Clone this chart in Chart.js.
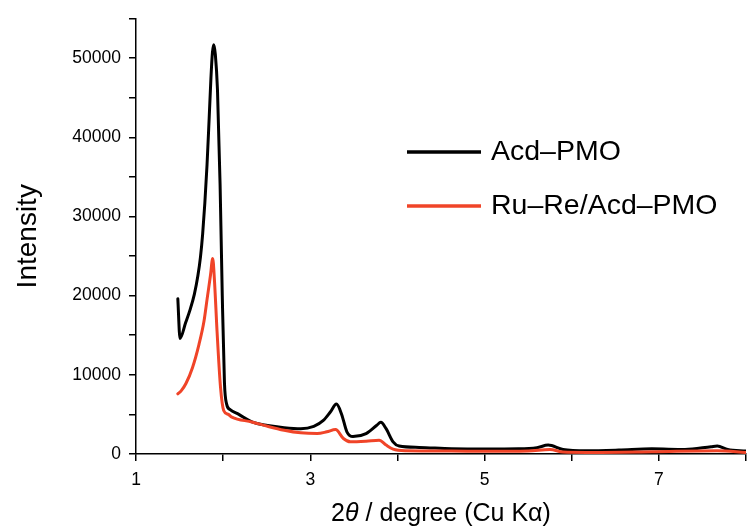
<!DOCTYPE html>
<html>
<head>
<meta charset="utf-8">
<script src="https://cdn.jsdelivr.net/npm/chart.js@4/dist/chart.umd.min.js"></script>
<style>
body{margin:0;background:#fff;}
canvas{display:block;}
</style>
</head>
<body>
<canvas id="chart" width="755" height="528"></canvas>
<script>

const FONT = '"Liberation Sans", Arial, sans-serif';

// Acd-PMO (black)
const acdX = [1.48, 1.505, 1.57, 1.62, 1.67, 1.71, 1.74, 1.765, 1.79, 1.815, 1.84, 1.86, 1.877, 1.893, 1.91, 1.935, 1.965, 1.99, 2.015, 2.04, 2.08, 2.18, 2.33, 2.51, 2.70, 2.89, 3.04, 3.15, 3.23, 3.30, 3.36, 3.42, 3.49, 3.64, 3.76, 3.81, 3.87, 3.95, 4.02, 4.25, 4.62, 5.0, 5.39, 5.6, 5.73, 5.9, 6.17, 6.54, 6.92, 7.3, 7.6, 7.67, 7.79, 8.0];
const acdY = [19600, 14600, 16600, 18200, 20200, 22500, 24900, 27800, 31700, 36500, 42500, 47500, 50700, 51700, 50500, 46000, 34000, 20000, 9000, 6300, 5600, 5000, 4050, 3600, 3330, 3200, 3500, 4250, 5300, 6300, 5000, 2800, 2200, 2580, 3600, 4000, 3200, 1540, 1000, 830, 670, 620, 650, 800, 1125, 580, 420, 500, 650, 580, 920, 1000, 580, 375];

// Ru-Re/Acd-PMO (red)
const ruX = [1.48, 1.52, 1.573, 1.648, 1.723, 1.78, 1.817, 1.855, 1.88, 1.90, 1.93, 1.97, 2.006, 2.06, 2.10, 2.33, 2.51, 2.70, 2.89, 3.08, 3.19, 3.29, 3.38, 3.46, 3.64, 3.79, 3.87, 3.95, 4.10, 4.62, 5.0, 5.5, 5.75, 5.9, 6.17, 6.92, 7.67, 8.0];
const ruY = [7600, 8000, 8900, 10900, 13850, 16750, 19650, 22600, 24700, 22000, 15500, 8400, 5500, 5000, 4650, 4050, 3500, 3000, 2670, 2580, 2800, 3080, 1960, 1540, 1620, 1750, 1125, 620, 420, 380, 340, 380, 580, 250, 200, 290, 420, 200];

const seriesNames = ["Acd\u2013PMO", "Ru\u2013Re/Acd\u2013PMO"];
const seriesColors = ["#000000", "#F04428"];

const xTickLabels = [1, 3, 5, 7];
const yTickLabels = [0, 10000, 20000, 30000, 40000, 50000];

function points(xs, ys){
    return xs.map((x, i) => ({x: x, y: ys[i]}));
}

// legend drawn at the right of the peak, like the original
const legendPlugin = {
    id: "sideLegend",
    afterDraw(chart){
        const ctx = chart.ctx;
        const rows = [152, 206];
        ctx.save();
        chart.data.datasets.forEach((ds, i) => {
            ctx.strokeStyle = ds.borderColor;
            ctx.lineWidth = 3.5;
            ctx.beginPath();
            ctx.moveTo(407, rows[i]);
            ctx.lineTo(481, rows[i]);
            ctx.stroke();
            ctx.fillStyle = "#000";
            ctx.font = "28.5px " + FONT;
            ctx.textBaseline = "middle";
            ctx.textAlign = "left";
            ctx.fillText(ds.label, 491, rows[i]);
        });
        ctx.restore();
    }
};

// x title with italic theta
const xTitlePlugin = {
    id: "xTitle",
    afterDraw(chart){
        const ctx = chart.ctx;
        const area = chart.chartArea;
        const parts = [
            ["2", "25px " + FONT],
            ["\u03B8", "italic 25px " + FONT],
            [" / degree (Cu K\u03B1)", "25px " + FONT]
        ];
        ctx.save();
        let total = 0;
        parts.forEach(p => { ctx.font = p[1]; total += ctx.measureText(p[0]).width; });
        let x = (area.left + area.right) / 2 - total / 2;
        ctx.fillStyle = "#000";
        ctx.textBaseline = "alphabetic";
        ctx.textAlign = "left";
        parts.forEach(p => {
            ctx.font = p[1];
            ctx.fillText(p[0], x, 521);
            x += ctx.measureText(p[0]).width;
        });
        ctx.restore();
    }
};

function drawChart(){

    const ctx = document.getElementById("chart");

    new Chart(ctx, {
        type: "line",
        data: {
            datasets: [
                {
                    label: seriesNames[0],
                    data: points(acdX, acdY),
                    borderColor: seriesColors[0],
                    borderWidth: 3,
                    order: 1
                },
                {
                    label: seriesNames[1],
                    data: points(ruX, ruY),
                    borderColor: seriesColors[1],
                    borderWidth: 3,
                    order: 0
                }
            ]
        },
        options: {
            responsive: false,
            animation: false,
            devicePixelRatio: 1,
            layout: {padding: {top: 14, left: 0, right: 0, bottom: 0}},
            elements: {
                point: {radius: 0},
                line: {cubicInterpolationMode: "monotone", fill: false, borderJoinStyle: "round", borderCapStyle: "round"}
            },
            plugins: {
                legend: {display: false},
                tooltip: {enabled: false}
            },
            scales: {
                x: {
                    type: "linear",
                    min: 1,
                    max: 8,
                    afterFit: s => { s.height = 74; },
                    border: {display: true, color: "#000", width: 1.5},
                    grid: {display: true, drawOnChartArea: false, drawTicks: true, tickLength: 7, color: "#000", lineWidth: 1.5},
                    ticks: {
                        stepSize: 1,
                        autoSkip: false,
                        maxRotation: 0,
                        padding: 9,
                        color: "#000",
                        font: {family: FONT, size: 17.5},
                        callback: v => xTickLabels.includes(v) ? String(v) : ""
                    }
                },
                y: {
                    min: 0,
                    max: 55000,
                    afterFit: s => { s.width = 136; },
                    border: {display: true, color: "#000", width: 1.5},
                    grid: {display: true, drawOnChartArea: false, drawTicks: true, tickLength: 7, color: "#000", lineWidth: 1.5},
                    ticks: {
                        stepSize: 5000,
                        autoSkip: false,
                        padding: 8,
                        color: "#000",
                        font: {family: FONT, size: 17.5},
                        callback: v => yTickLabels.includes(v) ? String(v) : ""
                    },
                    title: {
                        display: true,
                        text: "Intensity",
                        color: "#000",
                        font: {family: FONT, size: 28, lineHeight: 1},
                        padding: {top: 14, bottom: 0}
                    }
                }
            }
        },
        plugins: [legendPlugin, xTitlePlugin]
    });

}

document.addEventListener("DOMContentLoaded", () => {
    drawChart();
});

</script>
</body>
</html>
